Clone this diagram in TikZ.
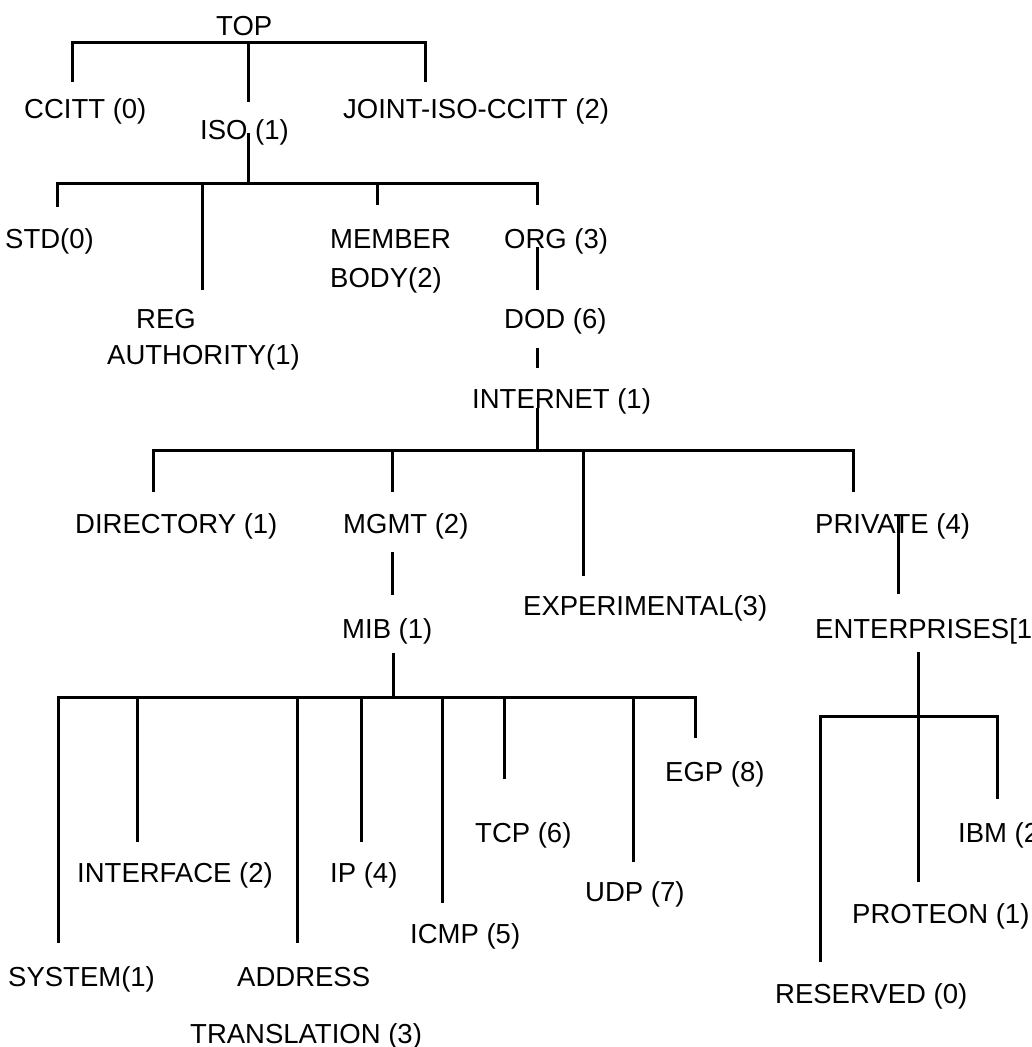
\documentclass[tikz,border=0pt]{standalone}
\usepackage{fontspec}
\setmainfont{Liberation Sans}
\begin{document}
\begin{tikzpicture}[x=1pt,y=-1pt,
  lbl/.style={anchor=base west, inner sep=0pt, font=\fontsize{27.5}{30}\selectfont},
  conn/.style={line width=3pt}]
\useasboundingbox (0,0) rectangle (1032,1047);
% ---------- labels ----------
\node[lbl] (top) at (216,35) {TOP};
\node[lbl] (ccitt) at (24,118) {CCITT (0)};
\node[lbl] (iso) at (200,139) {ISO (1)};
\node[lbl] (joint) at (343,118) {JOINT-ISO-CCITT (2)};
\node[lbl] (std) at (5,248) {STD(0)};
\node[lbl] (reg) at (136,328) {REG};
\node[lbl] (auth) at (107,364) {AUTHORITY(1)};
\node[lbl] (member) at (330,248) {MEMBER};
\node[lbl] (body) at (330,287) {BODY(2)};
\node[lbl] (org) at (504,248) {ORG (3)};
\node[lbl] (dod) at (504,328) {DOD (6)};
\node[lbl] (internet) at (472,408) {INTERNET (1)};
\node[lbl] (directory) at (75,533) {DIRECTORY (1)};
\node[lbl] (mgmt) at (343,533) {MGMT (2)};
\node[lbl] (exper) at (523,615) {EXPERIMENTAL(3)};
\node[lbl] (private) at (815,533) {PRIVATE (4)};
\node[lbl] (mib) at (342,638) {MIB (1)};
\node[lbl] (enter) at (815,638) {ENTERPRISES[1};
\node[lbl] (egp) at (665,781) {EGP (8)};
\node[lbl] (tcp) at (475,842) {TCP (6)};
\node[lbl] (interface) at (77,882) {INTERFACE (2)};
\node[lbl] (ip) at (330,882) {IP (4)};
\node[lbl] (udp) at (585,901) {UDP (7)};
\node[lbl] (icmp) at (410,943) {ICMP (5)};
\node[lbl] (system) at (8,986) {SYSTEM(1)};
\node[lbl] (address) at (237,986) {ADDRESS};
\node[lbl] (transl) at (190,1043) {TRANSLATION (3)};
\node[lbl] (ibm) at (958,842) {IBM (2};
\node[lbl] (proteon) at (852,923) {PROTEON (1)};
\node[lbl] (reserved) at (775,1003) {RESERVED (0)};
% ---------- connector end points ----------
\coordinate (barTop) at (248,42);
\coordinate (ccittT) at (72,82);
\coordinate (isoT) at (248,102);
\coordinate (jointT) at (425,82);
\coordinate (isoB) at (248,133);
\coordinate (barIso) at (248,183);
\coordinate (stdT) at (57,207);
\coordinate (regT) at (202,290);
\coordinate (memberT) at (377,205);
\coordinate (orgT) at (537,205);
\coordinate (orgB) at (537,247);
\coordinate (dodT) at (537,290);
\coordinate (dodB) at (537,348);
\coordinate (internetT) at (537,368);
\coordinate (internetB) at (537,408);
\coordinate (barNet) at (537,450);
\coordinate (directoryT) at (153,492);
\coordinate (mgmtT) at (392,492);
\coordinate (experT) at (583,576);
\coordinate (privateT) at (853,492);
\coordinate (privateB) at (898,516);
\coordinate (enterT) at (898,594);
\coordinate (mgmtB) at (392,552);
\coordinate (mibT) at (392,595);
\coordinate (mibB) at (393,653);
\coordinate (barMib) at (393,697);
\coordinate (systemT) at (58,943);
\coordinate (interfaceT) at (137,842);
\coordinate (addressT) at (297,943);
\coordinate (ipT) at (361,842);
\coordinate (icmpT) at (442,903);
\coordinate (tcpT) at (504,779);
\coordinate (udpT) at (633,862);
\coordinate (egpT) at (695,738);
\coordinate (enterB) at (918,652);
\coordinate (barEnt) at (918,716);
\coordinate (reservedT) at (820,962);
\coordinate (proteonT) at (918,882);
\coordinate (ibmT) at (997,799);
% ---------- connectors ----------
% TOP
\draw[conn] (ccittT) -- (ccittT |- barTop) -- (jointT |- barTop) -- (jointT);
\draw[conn] (barTop) -- (isoT);
% ISO
\draw[conn] (isoB) -- (barIso);
\draw[conn] (stdT) -- (stdT |- barIso) -- (orgT |- barIso) -- (orgT);
\draw[conn] (regT) -- (regT |- barIso);
\draw[conn] (memberT) -- (memberT |- barIso);
% ORG - DOD - INTERNET
\draw[conn] (orgB) -- (dodT);
\draw[conn] (dodB) -- (internetT);
\draw[conn] (internetB) -- (barNet);
% INTERNET
\draw[conn] (directoryT) -- (directoryT |- barNet) -- (privateT |- barNet) -- (privateT);
\draw[conn] (mgmtT) -- (mgmtT |- barNet);
\draw[conn] (experT) -- (experT |- barNet);
% MGMT - MIB
\draw[conn] (mgmtB) -- (mibT);
\draw[conn] (mibB) -- (barMib);
% MIB
\draw[conn] (systemT) -- (systemT |- barMib) -- (egpT |- barMib) -- (egpT);
\draw[conn] (interfaceT) -- (interfaceT |- barMib);
\draw[conn] (addressT) -- (addressT |- barMib);
\draw[conn] (ipT) -- (ipT |- barMib);
\draw[conn] (icmpT) -- (icmpT |- barMib);
\draw[conn] (tcpT) -- (tcpT |- barMib);
\draw[conn] (udpT) -- (udpT |- barMib);
% PRIVATE - ENTERPRISES
\draw[conn] (privateB) -- (enterT);
\draw[conn] (enterB) -- (proteonT);
\draw[conn] (reservedT) -- (reservedT |- barEnt) -- (ibmT |- barEnt) -- (ibmT);
\end{tikzpicture}
\end{document}
